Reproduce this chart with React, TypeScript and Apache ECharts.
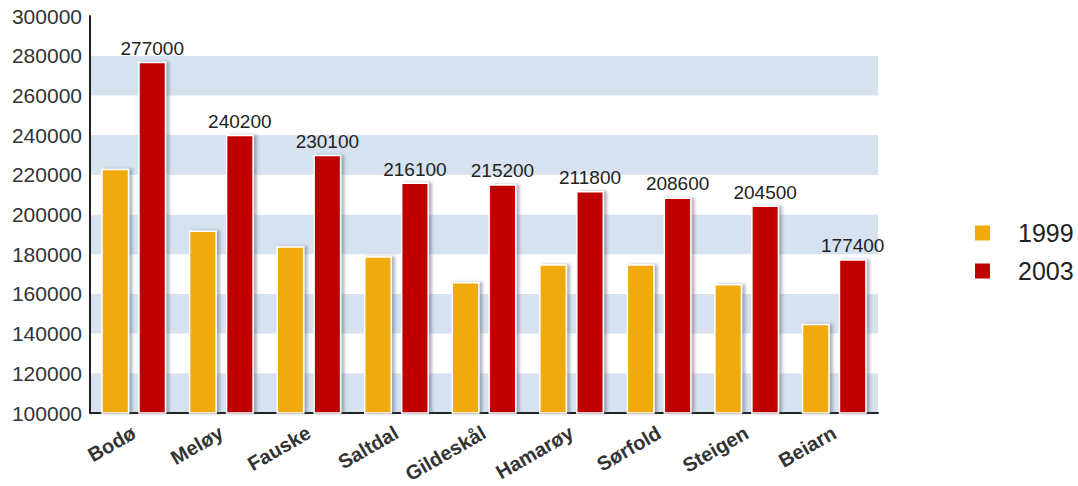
import React, { useEffect, useRef } from "react";
import * as echarts from "echarts";

const categories = ["Bodø", "Meløy", "Fauske", "Saltdal", "Gildeskål", "Hamarøy", "Sørfold", "Steigen", "Beiarn"];
const values1999 = [223000, 192000, 184000, 179000, 166000, 175000, 175000, 165000, 145000];
const values2003 = [277000, 240200, 230100, 216100, 215200, 211800, 208600, 204500, 177400];
const seriesNames = ["1999", "2003"];

const FONT = "'Liberation Sans', Arial, sans-serif";

export default function App() {
  const ref = useRef<HTMLDivElement>(null);
  useEffect(() => {
    const chart = echarts.init(ref.current!, null, { renderer: "svg" });
    const barStyle = (color: string) => ({
      color,
      borderColor: "#ffffff",
      borderWidth: 1.5,
      shadowColor: "rgba(80,90,110,0.45)",
      shadowBlur: 3,
      shadowOffsetX: 3,
      shadowOffsetY: 0,
    });
    chart.setOption({
      animation: false,
      backgroundColor: "#ffffff",
      textStyle: { fontFamily: FONT },
      grid: { left: 90, right: 200, top: 16, bottom: 73 },
      legend: {
        orient: "vertical",
        left: 968,
        top: 214,
        itemWidth: 17,
        itemHeight: 17,
        itemGap: 10,
        icon: "rect",
        textStyle: { fontSize: 25, lineHeight: 28, color: "#222", fontFamily: FONT, padding: [0, 0, 0, 22] },
        data: seriesNames,
      },
      xAxis: {
        type: "category",
        data: categories,
        axisLine: { lineStyle: { color: "#222", width: 2 } },
        axisTick: { show: false },
        axisLabel: {
          rotate: 30,
          fontSize: 20,
          fontWeight: "bold",
          color: "#333",
          margin: 18,
          fontFamily: FONT,
        },
      },
      yAxis: {
        type: "value",
        min: 100000,
        max: 300000,
        interval: 20000,
        axisLine: { show: true, lineStyle: { color: "#222", width: 2 } },
        axisTick: { show: false },
        splitLine: { show: false },
        splitArea: { show: true, areaStyle: { color: ["#d6e2ef", "#ffffff"] } },
        axisLabel: { fontSize: 21, color: "#333", margin: 8, fontFamily: FONT, formatter: (v: number) => String(v) },
      },
      series: [
        {
          name: seriesNames[0],
          type: "bar",
          data: values1999,
          barWidth: 28,
          barGap: "32%",
          itemStyle: barStyle("#f0aa10"),
        },
        {
          name: seriesNames[1],
          type: "bar",
          data: values2003,
          barWidth: 28,
          itemStyle: barStyle("#c00000"),
          label: {
            show: true,
            position: "top",
            distance: 4,
            fontSize: 19,
            color: "#222",
            fontFamily: FONT,
          },
        },
      ],
    });
    return () => chart.dispose();
  }, []);
  return <div ref={ref} style={{ width: 1078, height: 486, position: "absolute", left: 0, top: 0 }} />;
}
